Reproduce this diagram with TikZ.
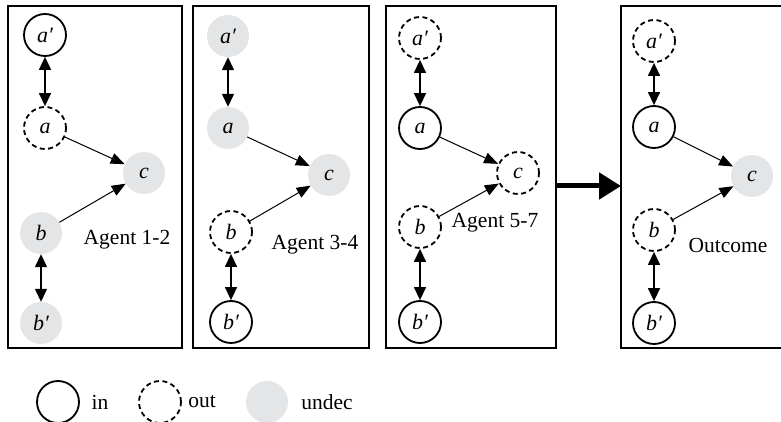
\documentclass[tikz,border=0pt]{standalone}
\usepackage{fontspec}
\setmainfont{Liberation Serif}
\usetikzlibrary{arrows.meta}
\definecolor{undec}{HTML}{E4E5E7}
\begin{document}
\begin{tikzpicture}[x=1pt,y=-1pt,
 st/.style={circle,minimum size=42pt,inner sep=0pt,font=\fontsize{22}{26}\selectfont\itshape},
 nin/.style={st,draw,line width=1.8pt},
 nout/.style={st,draw,dash pattern=on 5pt off 3.5pt,line width=1.8pt},
 nund/.style={st,fill=undec},
 panel/.style={draw,line width=1.6pt},
 dbl/.style={{Triangle[length=13pt,width=12pt]}-{Triangle[length=13pt,width=12pt]},line width=1.4pt},
 toc/.style={-{Triangle[length=14pt,width=11pt]},line width=1pt},
 lbl/.style={font=\fontsize{21.5}{25}\selectfont}]
\useasboundingbox (0,0) rectangle (781,422);
% panels
\draw[panel] (8,6) rectangle (182,348);
\draw[panel] (193,6) rectangle (369,348);
\draw[panel] (386,6) rectangle (556,348);
\draw[panel] (800,6) -- (621,6) -- (621,348) -- (800,348);
% panel 1
\node[nin]  (a1p) at (45,35) {a′};
\node[nout] (a1)  at (45,128) {a};
\node[nund] (c1)  at (144,173) {c};
\node[nund] (b1)  at (41,233) {b};
\node[nund] (b1p) at (41,323) {b′};
\node[lbl]  (l1)  at (127,240) {Agent 1-2};
\draw[dbl] (a1p) -- (a1);
\draw[dbl] (b1) -- (b1p);
\draw[toc] (a1) -- (c1);
\draw[toc] (b1) -- (c1);
% panel 2
\node[nund] (a2p) at (228,36) {a′};
\node[nund] (a2)  at (228,128) {a};
\node[nund] (c2)  at (329,175) {c};
\node[nout] (b2)  at (231,232) {b};
\node[nin]  (b2p) at (231,322) {b′};
\node[lbl]  (l2)  at (315,245) {Agent 3-4};
\draw[dbl] (a2p) -- (a2);
\draw[dbl] (b2) -- (b2p);
\draw[toc] (a2) -- (c2);
\draw[toc] (b2) -- (c2);
% panel 3
\node[nout] (a3p) at (420,38) {a′};
\node[nin]  (a3)  at (420,128) {a};
\node[nout] (c3)  at (518,173) {c};
\node[nout] (b3)  at (420,227) {b};
\node[nin]  (b3p) at (420,322) {b′};
\node[lbl]  (l3)  at (495,223) {Agent 5-7};
\draw[dbl] (a3p) -- (a3);
\draw[dbl] (b3) -- (b3p);
\draw[toc] (a3) -- (c3);
\draw[toc] (b3) -- (c3);
% panel 4
\node[nout] (a4p) at (654,41) {a′};
\node[nin]  (a4)  at (654,127) {a};
\node[nund] (c4)  at (752,176) {c};
\node[nout] (b4)  at (654,230) {b};
\node[nin]  (b4p) at (654,323) {b′};
\node[lbl]  (l4)  at (728,245) {Outcome};
\draw[dbl] (a4p) -- (a4);
\draw[dbl] (b4) -- (b4p);
\draw[toc] (a4) -- (c4);
\draw[toc] (b4) -- (c4);
% big arrow
\coordinate (s) at (557,186);
\coordinate (e) at (621,186);
\draw[line width=5pt,-{Triangle[length=22pt,width=26pt]}] (s) -- (e);
% legend
\node[nin]  (g1) at (58,402) {};
\node[lbl]  (t1) at (100,402) {in};
\node[nout] (g2) at (160,402) {};
\node[lbl]  (t2) at (202,402) {out};
\node[nund] (g3) at (267,402) {};
\node[lbl]  (t3) at (327,402) {undec};
\end{tikzpicture}
\end{document}
